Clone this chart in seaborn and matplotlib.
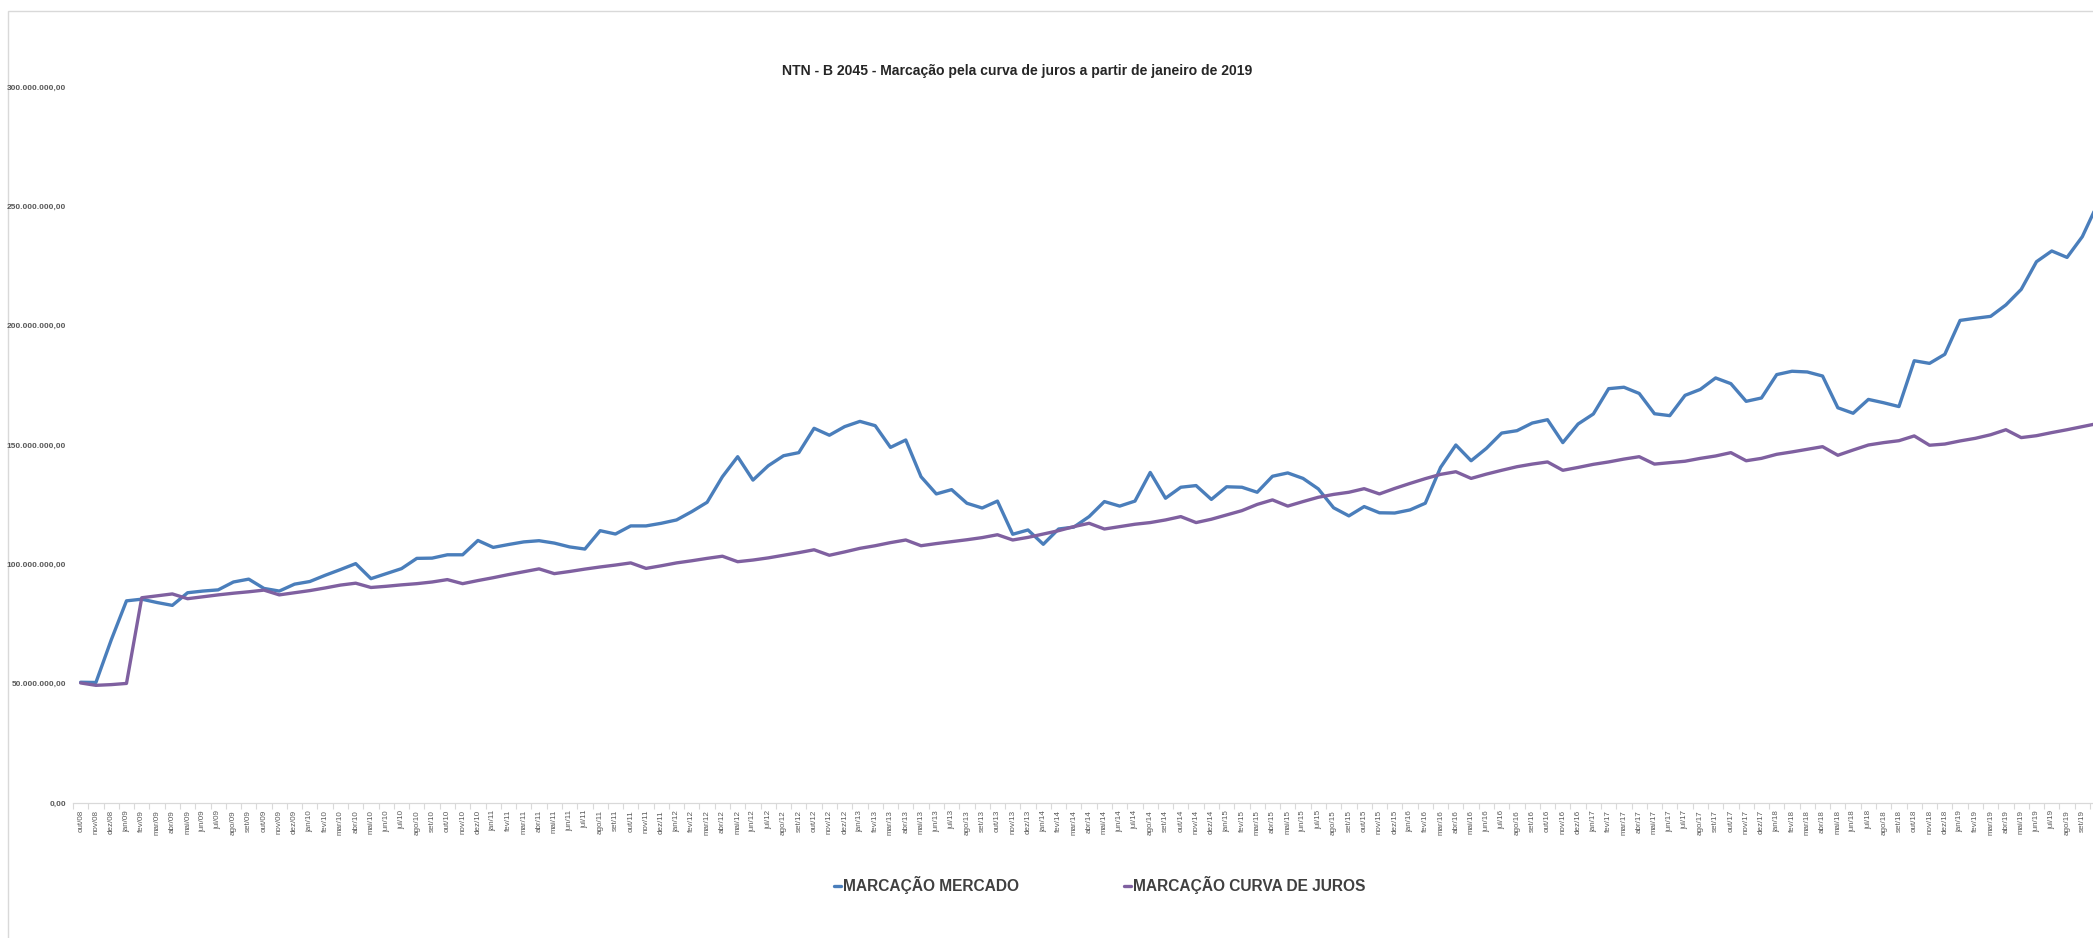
import numpy as np
import pandas as pd
import matplotlib
matplotlib.use('Agg')
import matplotlib.pyplot as plt
from matplotlib.lines import Line2D
from matplotlib.patches import Rectangle
from matplotlib.ticker import FuncFormatter
import seaborn as sns

# meses de out/08 a out/19 (o ultimo fica cortado na borda direita)
meses = ['jan', 'fev', 'mar', 'abr', 'mai', 'jun', 'jul', 'ago', 'set', 'out', 'nov', 'dez']
rotulos = ['out/08', 'nov/08', 'dez/08']
for ano in range(9, 20):
    for m in meses:
        rotulos.append(f'{m}/{ano:02d}')
rotulos = rotulos[:133]

# valores em milhoes de reais
mercado = [
    50.6, 50.5, 68.3, 84.7, 85.4, 84.0, 82.8, 88.1, 88.8, 89.3, 92.6, 93.8,
    89.9, 88.8, 91.7, 92.8, 95.4, 97.8, 100.3, 94.0, 96.1, 98.2, 102.5, 102.6,
    104.0, 104.0, 110.0, 107.1, 108.3, 109.4, 109.9, 108.9, 107.3, 106.4, 114.1, 112.7,
    116.1, 116.1, 117.2, 118.6, 122.1, 126.0, 136.7, 145.1, 135.3, 141.3, 145.5, 146.8,
    157.0, 154.1, 157.7, 159.9, 158.1, 149.0, 152.1, 136.7, 129.5, 131.3, 125.6, 123.6,
    126.5, 112.6, 114.4, 108.4, 114.8, 115.6, 120.0, 126.3, 124.4, 126.5, 138.5, 127.7,
    132.3, 133.0, 127.2, 132.5, 132.3, 130.2, 136.9, 138.3, 136.0, 131.6, 123.7, 120.3,
    124.2, 121.6, 121.5, 122.8, 125.6, 140.6, 150.0, 143.4, 148.6, 155.0, 156.0, 159.2,
    160.6, 151.0, 158.8, 163.0, 173.6, 174.2, 171.6, 163.1, 162.3, 170.8, 173.3, 178.1,
    175.7, 168.3, 169.7, 179.5, 180.9, 180.6, 178.9, 165.6, 163.3, 169.1, 167.7, 166.1,
    185.3, 184.2, 188.0, 202.2, 203.1, 203.9, 208.7, 215.2, 226.8, 231.3, 228.6, 237.3,
    251.0,
]
curva = [
    50.3, 49.3, 49.6, 50.1, 86.0, 86.8, 87.6, 85.6, 86.4, 87.2, 87.9, 88.5,
    89.2, 87.2, 88.1, 89.0, 90.1, 91.3, 92.1, 90.3, 90.8, 91.4, 91.9, 92.6,
    93.6, 91.9, 93.2, 94.4, 95.7, 96.9, 98.1, 96.1, 97.0, 98.0, 98.9, 99.7,
    100.6, 98.3, 99.4, 100.6, 101.5, 102.5, 103.4, 101.1, 101.8, 102.7, 103.8, 104.9,
    106.1, 103.8, 105.2, 106.7, 107.8, 109.1, 110.2, 107.8, 108.7, 109.5, 110.3, 111.2,
    112.4, 110.2, 111.3, 112.7, 114.1, 115.8, 117.2, 114.8, 115.8, 116.8, 117.5, 118.6,
    120.0, 117.5, 118.9, 120.7, 122.5, 125.1, 127.0, 124.4, 126.3, 128.1, 129.3, 130.2,
    131.7, 129.5, 131.8, 133.9, 135.9, 137.7, 138.8, 136.0, 137.8, 139.4, 140.9, 142.0,
    142.9, 139.4, 140.6, 141.9, 142.9, 144.1, 145.1, 142.0, 142.6, 143.2, 144.4, 145.4,
    146.8, 143.4, 144.4, 146.1, 147.1, 148.2, 149.3, 145.7, 147.9, 150.0, 151.0, 151.8,
    153.8, 149.9, 150.4, 151.7, 152.8, 154.3, 156.4, 153.1, 153.9, 155.2, 156.4, 157.7,
    159.0,
]

series = ['MARCAÇÃO MERCADO', 'MARCAÇÃO CURVA DE JUROS']
cores = ['#4a7ebb', '#7f60a0']
n = len(mercado)

df = pd.DataFrame({
    'idx': list(range(n)) * 2,
    'valor': mercado + curva,
    'serie': [series[0]] * n + [series[1]] * n,
})

sns.set_theme(style='white')
plt.rcParams['font.family'] = ['Liberation Sans', 'DejaVu Sans']

W, H = 2093, 938
fig = plt.figure(figsize=(W / 100, H / 100), dpi=100)
fig.patch.set_facecolor('white')
fig.add_artist(Rectangle((8 / W, -0.05), 1.2, 1 - 11 / H + 0.05, transform=fig.transFigure,
                         fill=False, ec='#d9d9d9', lw=1.0, zorder=0))

ax = fig.add_axes([73 / W, 1 - 803 / H, 1 - 73 / W, (803 - 87) / H])
g = sns.lineplot(data=df, x='idx', y='valor', hue='serie', palette=cores, sort=False,
                 lw=2.4, ax=ax, legend=False)
for ln in ax.get_lines():
    ln.set_solid_joinstyle('round')
    ln.set_solid_capstyle('round')

ax.set_xlabel('')
ax.set_ylabel('')
for s in ['left', 'right', 'top']:
    ax.spines[s].set_visible(False)
ax.spines['bottom'].set_color('#d9d9d9')
ax.spines['bottom'].set_linewidth(0.9)

ax.set_xticks(range(n))
ax.set_xticklabels(rotulos[:n], rotation=90, fontsize=5.8, color='#595959')
ax.set_xticks(np.arange(-0.5, n, 1), minor=True)
ax.tick_params(axis='x', which='major', length=0, pad=5)
ax.tick_params(axis='x', which='minor', length=4, width=0.8, color='#d9d9d9', direction='out', bottom=True)

ax.set_yticks(range(0, 301, 50))
ax.yaxis.set_major_formatter(FuncFormatter(
    lambda v, p: f'{v * 1e6:,.2f}'.replace(',', 'X').replace('.', ',').replace('X', '.')))
ax.tick_params(axis='y', length=0, pad=5, labelsize=6.0, labelcolor='#595959')
for t in ax.get_yticklabels():
    t.set_fontweight('bold')

# limites depois dos ticks (set_xticks amplia a vista)
ax.set_xlim(-0.5, -0.5 + (W - 73) / 15.28)
ax.set_ylim(0, 300)

fig.text(1017 / W, 1 - 71 / H, 'NTN - B 2045 - Marcação pela curva de juros a partir de janeiro de 2019',
         ha='center', va='center', fontsize=10.1, fontweight='bold', color='#262626')

# legenda: uma entrada por vez, nas posicoes do original
for c, nome, x0 in zip(cores, series, [834, 1124]):
    fig.legend([Line2D([], [], color=c, lw=2.4)], [nome], loc='center left',
               bbox_to_anchor=(x0 / W, 1 - 885 / H), frameon=False,
               handlelength=0.45, handletextpad=0.1, borderpad=0, borderaxespad=0,
               prop={'weight': 'bold', 'size': 11.2}, labelcolor='#404040')

fig.savefig('out.png', dpi=100)
